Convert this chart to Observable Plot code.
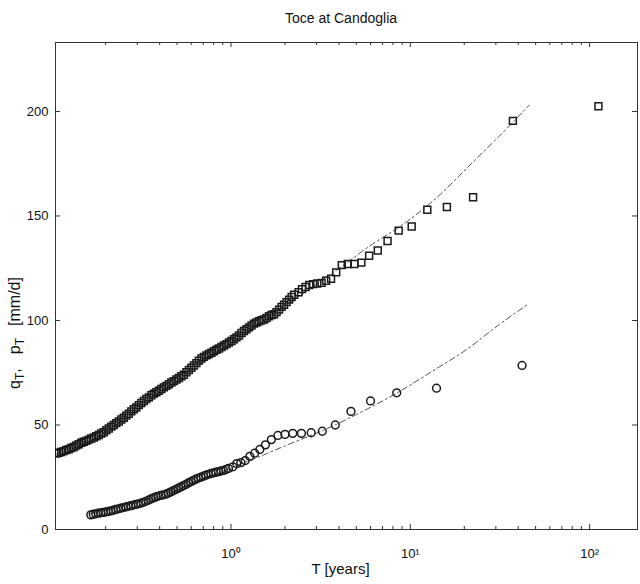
<!DOCTYPE html>
<html><head><meta charset="utf-8">
<script src="https://cdn.jsdelivr.net/npm/d3@7"></script>
<script src="https://cdn.jsdelivr.net/npm/@observablehq/plot@0.6"></script>
<style>
body{margin:0;background:#fff;font-family:"Liberation Sans",Arial,sans-serif;}
#title{height:30px;box-sizing:border-box;padding-top:10px;padding-left:42px;text-align:center;font-size:14px;line-height:16px;color:#111;}
#chart svg{display:block;}
</style></head><body>
<div id="title">Toce at Candoglia</div>
<div id="chart"></div>
<script>
// Precipitation quantiles p_T (squares): return period [years] and value [mm/d]
const pT = [0.1059,0.1094,0.1130,0.1167,0.1205,0.1245,0.1285,0.1327,0.1371,0.1415,0.1462,0.1510,0.1559,0.1610,0.1662,0.1717,0.1773,0.1831,0.1890,0.1952,0.2016,0.2082,0.2150,0.2220,0.2292,0.2367,0.2444,0.2524,0.2606,0.2692,0.2779,0.2870,0.2964,0.3061,0.3162,0.3266,0.3372,0.3483,0.3596,0.3714,0.3835,0.3961,0.4090,0.4223,0.4361,0.4504,0.4651,0.4803,0.4960,0.5122,0.5289,0.5462,0.5640,0.5824,0.6014,0.6211,0.6414,0.6623,0.6839,0.7063,0.7294,0.7532,0.7778,0.8035,0.8299,0.8570,0.8850,0.9139,0.9438,0.9746,1.0065,1.0394,1.0733,1.1084,1.1447,1.1820,1.2207,1.2606,1.3016,1.3442,1.3881,1.4333,1.4802,1.5286,1.5785,1.6301,1.6834,1.7384,1.7952,1.8540,1.9144,1.9770,2.0418,2.1086,2.1777,2.2491,
  2.383,2.489,2.605,2.732,2.872,3.027,3.200,3.394,3.613,3.862,4.148,4.480,4.870,5.333,5.895,6.588,7.467,8.615,10.18,12.44,16.00,22.40,37.33,112.0];
const pV = [36.4,36.7,37.1,37.5,38.0,38.4,39.0,39.5,40.2,40.8,41.5,42.0,42.4,43.0,43.5,44.0,44.6,45.2,45.9,46.5,47.5,48.3,49.2,50.0,50.9,51.7,52.6,53.5,54.5,55.4,56.5,57.5,58.4,59.5,60.5,61.5,62.4,63.2,64.2,65.0,65.7,66.4,67.2,68.0,68.7,69.5,70.3,71.0,71.8,72.5,73.3,74.0,75.2,76.3,77.4,78.5,79.6,80.8,81.8,82.6,83.3,84.0,84.6,85.3,86.0,86.6,87.3,88.0,88.7,89.5,90.2,91.0,91.9,92.8,94.0,95.0,95.8,96.7,97.6,98.5,99.0,99.6,100.1,100.5,101.2,102.0,102.6,103.0,104.0,105.2,106.5,107.5,108.8,110.0,111.2,112.3,
  113.5,115,116,117,117.4,117.7,118,119,120,123,126.5,127,127,127.7,131,133.5,138,143,145,153,154.3,159,195.5,202.5];

// Discharge quantiles q_T (circles)
const qT = [0.1652,0.1705,0.1761,0.1819,0.1878,0.1939,0.2003,0.2068,0.2136,0.2206,0.2277,0.2352,0.2429,0.2508,0.2590,0.2675,0.2762,0.2852,0.2945,0.3041,0.3141,0.3244,0.3350,0.3459,0.3572,0.3690,0.3811,0.3935,0.4064,0.4196,0.4333,0.4474,0.4621,0.4772,0.4928,0.5089,0.5255,0.5427,0.5604,0.5787,0.5976,0.6171,0.6373,0.6581,0.6796,0.7018,0.7247,0.7484,0.7728,0.7981,0.8242,0.8513,0.8793,0.9081,0.9378,0.9683,
  1.024,1.077,1.135,1.200,1.273,1.355,1.448,1.556,1.680,1.826,2.000,2.211,2.471,2.800,3.231,3.818,4.667,6.000,8.400,14.00,42.00];
const qV = [7.0,7.3,7.5,7.8,8.0,8.2,8.4,8.6,8.9,9.2,9.6,9.9,10.2,10.5,10.8,11.1,11.4,11.7,12.0,12.3,12.6,13.0,13.5,14.0,14.6,15.1,15.6,16.0,16.3,16.6,16.9,17.4,18.0,18.6,19.2,19.8,20.4,21.0,21.6,22.3,22.9,23.5,24.1,24.6,25.0,25.5,26.0,26.4,26.8,27.1,27.4,27.7,28.0,28.3,28.7,29.2,
  30,31.5,32,33,35,36.5,38.3,40.5,43,45,45.5,46,46,46.3,47,50,56.5,61.5,65.4,67.6,78.5];

// Fitted curves (dashed)
const pFitT = [0.105,0.2,0.3,0.5,1,2,3,4.5,5.9,8.6,10,13.3,22.2,37.8,46];
const pFitV = [36,47,57,71,89,107,117.5,128,135.5,144.5,148.5,157,175.5,195.3,203];
const qFitT = [0.165,0.25,0.4,0.6,1,1.5,2,3.44,5,8.3,13.2,20.5,31.3,45];
const qFitV = [7.5,11,16,21.5,29.5,35.5,40,48.3,55,65,75.6,86,98,107.6];

// Axes
const xDomain = [0.105, 185];
const yDomain = [0, 233];
const xTickValues = [1, 10, 100];
const xTickLabels = ["10\u2070", "10\u00B9", "10\u00B2"];
const xMinorTicks = [0.2,0.3,0.4,0.5,0.6,0.7,0.8,0.9,2,3,4,5,6,7,8,9,20,30,40,50,60,70,80,90];
const yTicks = [0, 50, 100, 150, 200];
const xTitle = "T [years]";

const zip = (a, b) => a.slice(0, Math.min(a.length, b.length)).map((t, i) => ({T: t, v: b[i]}));
const pData = zip(pT, pV), qData = zip(qT, qV);
const pFit = zip(pFitT, pFitV), qFit = zip(qFitT, qFitV);

const W = 640, H = 554, mL = 55, mR = 3, mT = 12, mB = 55;
const pxPerY = (H - mT - mB) / (yDomain[1] - yDomain[0]);
const pxPerDec = (W - mL - mR) / Math.log10(xDomain[1] / xDomain[0]);
const yLen = px => px / pxPerY;
const xFac = px => Math.pow(10, px / pxPerDec);
const tickColor = "#333";

const chart = Plot.plot({
  width: W, height: H,
  marginLeft: mL, marginRight: mR, marginTop: mT, marginBottom: mB,
  x: {type: "log", domain: xDomain},
  y: {domain: yDomain},
  style: {fontFamily: "'Liberation Sans', Arial, sans-serif", fontSize: "13px", color: "#111", background: "transparent"},
  marks: [
    Plot.frame({stroke: tickColor, strokeWidth: 1}),
    // inward ticks: bottom / top
    Plot.ruleX(xTickValues, {y1: yDomain[0], y2: yDomain[0] + yLen(5), stroke: tickColor}),
    Plot.ruleX(xMinorTicks, {y1: yDomain[0], y2: yDomain[0] + yLen(3), stroke: tickColor}),
    Plot.ruleX(xTickValues, {y1: yDomain[1], y2: yDomain[1] - yLen(5), stroke: tickColor}),
    Plot.ruleX(xMinorTicks, {y1: yDomain[1], y2: yDomain[1] - yLen(3), stroke: tickColor}),
    // inward ticks: left / right
    Plot.ruleY(yTicks, {x1: xDomain[0], x2: xDomain[0] * xFac(5), stroke: tickColor}),
    Plot.ruleY(yTicks, {x1: xDomain[1], x2: xDomain[1] / xFac(5), stroke: tickColor}),
    // fitted curves
    Plot.line(pFit, {x: "T", y: "v", stroke: "#555", strokeWidth: 1, strokeDasharray: "6,3,2,3", curve: "monotone-x"}),
    Plot.line(qFit, {x: "T", y: "v", stroke: "#555", strokeWidth: 1, strokeDasharray: "6,3,2,3", curve: "monotone-x"}),
    // observations
    Plot.dot(pData, {x: "T", y: "v", symbol: "square", r: 3.9, stroke: "#1a1a1a", strokeWidth: 1.5, fill: "none", clip: true}),
    Plot.dot(qData, {x: "T", y: "v", symbol: "circle", r: 3.9, stroke: "#1a1a1a", strokeWidth: 1.5, fill: "none", clip: true}),
    // axes labels
    Plot.axisX({ticks: xTickValues, tickFormat: d => xTickLabels[xTickValues.indexOf(d)], tickSize: 0, tickPadding: 19, fontSize: 13, label: null}),
    Plot.axisY({ticks: yTicks, tickSize: 0, tickPadding: 7, fontSize: 13, label: null}),
    Plot.text([xTitle], {text: d => d, frameAnchor: "bottom", dy: 44, dx: -6, fontSize: 15, fill: "#111"})
  ]
});

const svg = d3.select(chart);

// y-axis title with subscripts
const yl = svg.append("text")
  .attr("transform", "translate(20,303) rotate(-90)")
  .attr("text-anchor", "middle")
  .attr("font-size", 16)
  .attr("fill", "#111");
yl.append("tspan").text("q");
yl.append("tspan").attr("dy", 4).attr("font-size", 12).text("T");
yl.append("tspan").attr("dy", -4).text(",");
yl.append("tspan").attr("dx", 14).text("p");
yl.append("tspan").attr("dy", 4).attr("font-size", 12).text("T");
yl.append("tspan").attr("dy", -4).attr("dx", 12).text("[mm/d]");

document.getElementById("chart").appendChild(chart);
</script>
</body></html>
